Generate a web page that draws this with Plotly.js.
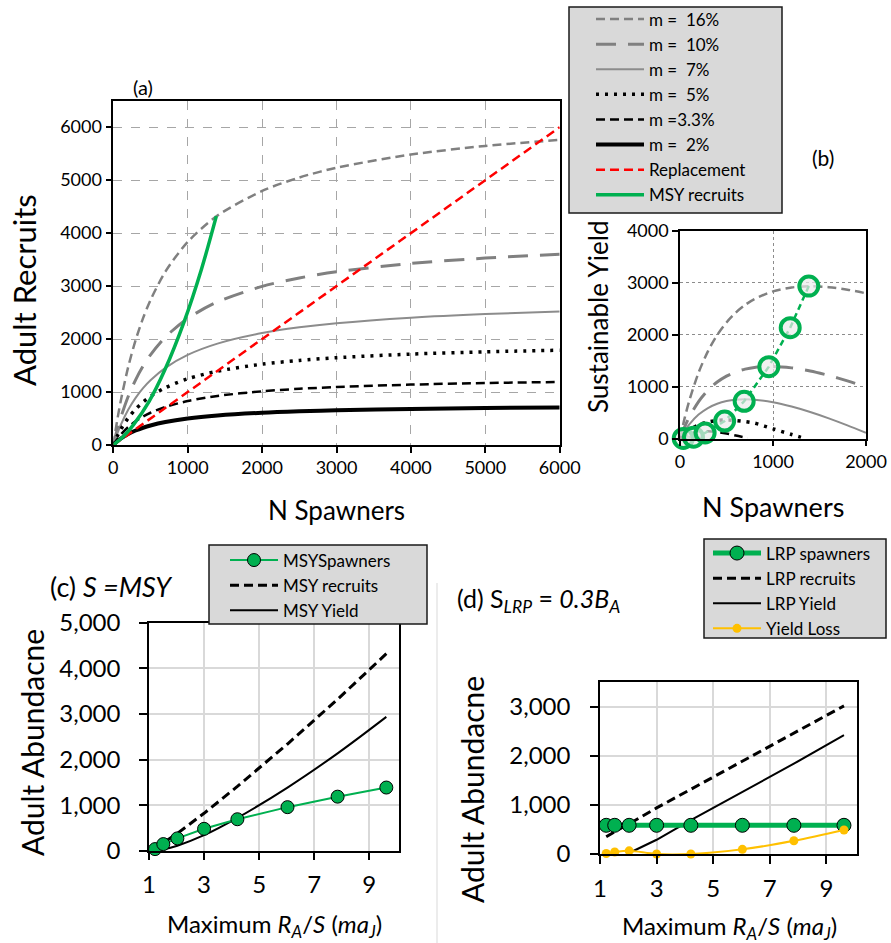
<!DOCTYPE html>
<html><head><meta charset="utf-8">
<script src="https://cdn.plot.ly/plotly-3.0.1.min.js"></script>
<style>html,body{margin:0;padding:0;background:#fff}#chart{width:891px;height:943px}</style>
</head><body><div id="chart"></div>
<script>
// ---------- Panel (a): adult recruits vs spawners ----------
const spawnersA = [0,50,100,200,300,400,500,700,1000,1400,2000,2500,3000,4000,5000,6000];
const recM16  = [0,445,832,1472,1980,2394,2736,3272,3834,4331,4796,5050,5234,5484,5646,5760];
const recM10  = [0,276,516,915,1231,1489,1703,2038,2390,2702,2994,3153,3269,3427,3529,3600];
const recM7   = [0,202,377,664,890,1073,1223,1457,1701,1914,2113,2221,2299,2404,2473,2520];
const recM5   = [0,159,294,511,678,810,918,1082,1250,1394,1526,1597,1648,1716,1759,1790];
const recM33  = [0,105,194,338,449,537,609,718,830,926,1014,1061,1095,1140,1170,1190];
const recM2   = [0,65,119,207,274,326,369,434,500,556,608,635,655,681,698,710];
const replS   = [0,6000];
const replR   = [0,6000];

// MSY points (shared by a, b, c)
const msySpawners = [35,145,270,480,690,955,1185,1385];
const msyRecruits = [40,175,380,820,1410,2340,3320,4320];
const msyYield    = [5,30,110,340,720,1385,2135,2935];

// ---------- Panel (b): sustainable yield vs spawners ----------
const spawnersB = [0,50,100,200,300,400,500,600,700,800,1000,1200,1400,1600,1800,2000];
const yldM16 = [0,395,732,1272,1680,1994,2236,2425,2572,2685,2834,2909,2931,2913,2866,2796];
const yldM10 = [0,226,416,715,931,1089,1203,1284,1338,1371,1390,1362,1302,1216,1112,994];
const yldM7  = [0,152,277,464,590,673,723,750,757,749,701,619,514,392,257,113];
const spawnersB5 = [0,50,100,200,300,400,500,600,700,800,1000,1200,1350];
const yldM5  = [0,95,165,265,320,350,360,350,330,300,190,80,0];
const spawnersB33 = [0,50,100,200,300,400,500,600,730];
const yldM33 = [0,55,94,138,145,130,100,60,15];
const spawnersB2 = [0,50,100,150,200,225];
const yldM2  = [0,15,19,16,7,0];

// ---------- Panels (c) and (d): vs maximum RA/S ----------
const maxRS = [1.22,1.52,2.03,3.0,4.21,6.03,7.85,9.62];
const lrpSpawners = [585,585,585,585,585,585,585,585];
const lrpRecruits = [350,455,615,940,1320,1890,2460,3020];
const lrpYield    = [null,null,20,290,690,1260,1840,2425];
const yieldLoss   = [10,40,65,0,0,95,270,490];

const F = 'Lato';
const GRAY = '#808080', GREEN = '#00b050', YEL = '#ffc000', RED = '#ff0000';
const nb = '\u00a0';

const styles = {
  m16: {color:GRAY, width:2.5, dash:'9px,5px'},
  m10: {color:GRAY, width:3, dash:'20px,12px'},
  m7:  {color:'#8c8c8c', width:2},
  m5:  {color:'#000', width:3.5, dash:'3px,6px'},
  m33: {color:'#000', width:2.5, dash:'9px,5px'},
  m2:  {color:'#000', width:4}
};
function ln(st, extra){ return Object.assign({shape:'spline', smoothing:0.8}, st, extra||{}); }

const traces = [];
// Panel a
[[recM16,'m ='+nb+' 16%','m16'],[recM10,'m ='+nb+' 10%','m10'],[recM7,'m ='+nb+' 7%','m7'],
 [recM5,'m ='+nb+' 5%','m5'],[recM33,'m =3.3%','m33'],[recM2,'m ='+nb+' 2%','m2']].forEach(function(d){
  traces.push({x:spawnersA, y:d[0], name:d[1], mode:'lines', line:ln(styles[d[2]]), xaxis:'x', yaxis:'y', legend:'legend', hoverinfo:'skip'});
});
traces.push({x:replS, y:replR, name:'Replacement', mode:'lines', line:{color:RED, width:2.5, dash:'9px,5px'}, xaxis:'x', yaxis:'y', legend:'legend'});
traces.push({x:[0].concat(msySpawners), y:[0].concat(msyRecruits), name:'MSY recruits', mode:'lines', line:{color:GREEN, width:3.5, shape:'spline'}, xaxis:'x', yaxis:'y', legend:'legend'});

// Panel b
[[spawnersB,yldM16,'m16'],[spawnersB,yldM10,'m10'],[spawnersB,yldM7,'m7'],
 [spawnersB5,yldM5,'m5'],[spawnersB33,yldM33,'m33'],[spawnersB2,yldM2,'m2']].forEach(function(d){
  traces.push({x:d[0], y:d[1], mode:'lines', line:ln(styles[d[2]]), xaxis:'x2', yaxis:'y2', showlegend:false});
});
traces.push({x:msySpawners, y:msyYield, mode:'lines+markers', showlegend:false, cliponaxis:false,
  line:{color:GREEN, width:2.5, dash:'6px,4px'},
  marker:{symbol:'circle', size:19, color:'rgba(235,235,235,0.7)', line:{color:GREEN, width:4}},
  xaxis:'x2', yaxis:'y2'});

// Panel c
traces.push({x:maxRS, y:msyRecruits, name:'MSY recruits', mode:'lines', line:{color:'#000', width:3, dash:'9px,5px'}, xaxis:'x3', yaxis:'y3', legend:'legend2', legendrank:2});
traces.push({x:maxRS, y:msyYield, name:'MSY Yield', mode:'lines', line:{color:'#000', width:2, shape:'spline'}, xaxis:'x3', yaxis:'y3', legend:'legend2', legendrank:3});
traces.push({x:maxRS, y:msySpawners, name:'MSYSpawners', mode:'lines+markers', cliponaxis:false,
  line:{color:GREEN, width:2}, marker:{size:13, color:GREEN, line:{color:'#000', width:1}},
  xaxis:'x3', yaxis:'y3', legend:'legend2', legendrank:1});

// Panel d
traces.push({x:maxRS, y:lrpRecruits, name:'LRP recruits', mode:'lines', line:{color:'#000', width:3, dash:'9px,5px'}, xaxis:'x4', yaxis:'y4', legend:'legend3', legendrank:2});
traces.push({x:maxRS, y:lrpYield, name:'LRP Yield', mode:'lines', line:{color:'#000', width:2}, xaxis:'x4', yaxis:'y4', legend:'legend3', legendrank:3});
traces.push({x:maxRS, y:lrpSpawners, name:'LRP spawners', mode:'lines+markers', cliponaxis:false,
  line:{color:GREEN, width:5}, marker:{size:14, color:GREEN, line:{color:'#000', width:1}},
  xaxis:'x4', yaxis:'y4', legend:'legend3', legendrank:1});
traces.push({x:maxRS, y:yieldLoss, name:'Yield Loss', mode:'lines+markers', cliponaxis:false,
  line:{color:YEL, width:2, shape:'spline'}, marker:{size:9, color:YEL},
  xaxis:'x4', yaxis:'y4', legend:'legend3', legendrank:4});

const W = 891, H = 943;
const px = v => v / W, py = v => 1 - v / H;

function axis(o){
  return Object.assign({showline:true, mirror:true, linecolor:'#000', linewidth:1.5,
    ticks:'outside', tickcolor:'#000', tickwidth:1.5, ticklen:6, zeroline:false, fixedrange:true,
    tickfont:{family:F, size:18, color:'#000'}}, o);
}
const gridA = {showgrid:true, gridcolor:'#a6a6a6', griddash:'dash', gridwidth:1};
const gridB = {showgrid:true, gridcolor:'#8c8c8c', griddash:'dot', gridwidth:1};
const gridC = {showgrid:true, gridcolor:'#d9d9d9', gridwidth:1.5};
const bigTick = {tickfont:{family:F, size:24, color:'#000'}, ticklen:8};

function ann(text, x, y, size, opt){
  return Object.assign({text:text, x:px(x), y:py(y), xref:'paper', yref:'paper', showarrow:false,
    xanchor:'center', yanchor:'middle', font:{family:F, size:size, color:'#000'}}, opt||{});
}
function rect(x0,y0,x1,y1){
  return {type:'rect', xref:'paper', yref:'paper', x0:px(x0), x1:px(x1), y0:py(y1), y1:py(y0),
    fillcolor:'#d9d9d9', line:{color:'#1a1a1a', width:1.5}, layer:'above'};
}
const xTitle = 'Maximum <i>R<sub>A</sub></i>/<i>S</i> (<i>ma<sub>J</sub></i>)';

const layout = {
  width:W, height:H, margin:{l:0,r:0,t:0,b:0}, paper_bgcolor:'#fff', plot_bgcolor:'#fff',
  font:{family:F, color:'#000'}, showlegend:true,
  xaxis: axis(Object.assign({domain:[px(113.3),px(559.7)], anchor:'y', range:[0,6000], dtick:1000, tickformat:'d'}, gridA)),
  yaxis: axis(Object.assign({domain:[py(445),py(100.7)], anchor:'x', range:[0,6500], tickvals:[0,1000,2000,3000,4000,5000,6000], tickformat:'d'}, gridA)),
  xaxis2: axis(Object.assign({domain:[px(680),px(866)], anchor:'y2', range:[0,2000], dtick:1000, tickformat:'d'}, gridB)),
  yaxis2: axis(Object.assign({domain:[py(438.7),py(230.7)], anchor:'x2', range:[0,4000], dtick:1000, tickformat:'d'}, gridB)),
  xaxis3: axis(Object.assign({domain:[px(149),px(399)], anchor:'y3', range:[1,10.08], tickvals:[1,3,5,7,9], ticklabelstandoff:4}, gridC, bigTick)),
  yaxis3: axis(Object.assign({domain:[py(850.7),py(622.7)], anchor:'x3', range:[0,5000], dtick:1000, tickformat:',d', ticklabelstandoff:14}, gridC, bigTick)),
  xaxis4: axis(Object.assign({domain:[px(600),px(857)], anchor:'y4', range:[1,10.08], tickvals:[1,3,5,7,9], ticklabelstandoff:4}, gridC, bigTick)),
  yaxis4: axis(Object.assign({domain:[py(854),py(682.3)], anchor:'x4', range:[0,3500], tickvals:[0,1000,2000,3000], tickformat:',d', ticklabelstandoff:15}, gridC, bigTick)),
  legend:  {x:px(591), y:py(1.5), xanchor:'left', yanchor:'top', bgcolor:'rgba(0,0,0,0)', borderwidth:0, itemwidth:48,
            font:{family:F, size:17, color:'#000'}, traceorder:'normal'},
  legend2: {x:px(225), y:py(542.5), xanchor:'left', yanchor:'top', bgcolor:'rgba(0,0,0,0)', borderwidth:0, itemwidth:48,
            font:{family:F, size:17, color:'#000'}, traceorder:'normal'},
  legend3: {x:px(708), y:py(535.5), xanchor:'left', yanchor:'top', bgcolor:'rgba(0,0,0,0)', borderwidth:0, itemwidth:48,
            font:{family:F, size:17, color:'#000'}, traceorder:'normal'},
  shapes: [
    rect(569,7,782,213), rect(209,545,427,624), rect(704,539,886,638),
    {type:'line', xref:'paper', yref:'paper', x0:px(437), x1:px(437), y0:0, y1:py(583), line:{color:'#d9d9d9', width:1}}
  ],
  annotations: [
    ann('(a)', 143, 86.7, 20),
    ann('(b)', 823, 157, 21),
    ann('(c) <i>S =MSY</i>', 48, 586.7, 27, {xanchor:'left'}),
    ann('(d) S<sub><i>LRP</i></sub> = <i>0.3B<sub>A</sub></i>', 455, 600, 25, {xanchor:'left'}),
    ann('Adult Recruits', 24, 290, 31, {textangle:-90}),
    ann('Sustainable Yield', 598, 317, 26, {textangle:-90}),
    ann('Adult Abundacne', 32, 743, 30, {textangle:-90}),
    ann('Adult Abundacne', 472, 790, 30, {textangle:-90}),
    ann('N Spawners', 336, 510, 26),
    ann('N Spawners', 773, 506.7, 27),
    ann(xTitle, 274, 925, 24),
    ann(xTitle, 729, 927, 24)
  ]
};

Plotly.newPlot('chart', traces, layout, {displayModeBar:false});
</script></body></html>
